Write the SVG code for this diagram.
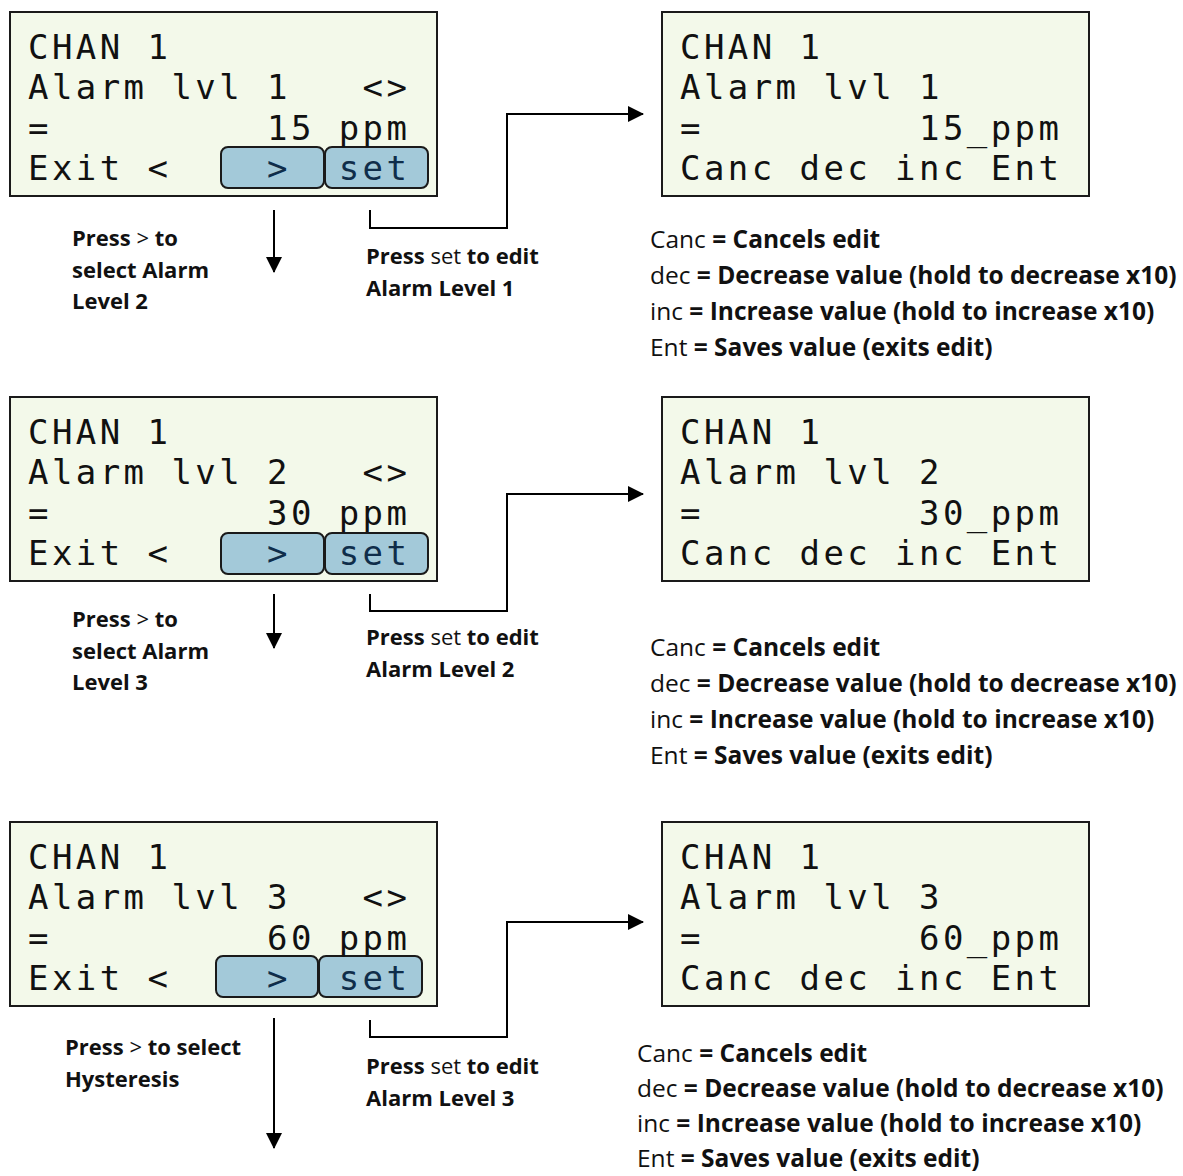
<svg xmlns="http://www.w3.org/2000/svg" width="1183" height="1176" viewBox="0 0 1183 1176">
  <style>
    .lcd { fill: #f3f9ea; stroke: #1a1a1a; stroke-width: 2; }
    .btn { fill: #a3c9d9; stroke: #1a1a1a; stroke-width: 2; }
    .mono { font-family: "DejaVu Sans Mono", "Liberation Mono", monospace; font-size: 34px; letter-spacing: 3.43px; fill: #111; }
    .btxt { fill: #0f2d4a; }
    .lbl { font-family: "Open Sans", Lato, sans-serif; font-size: 22px; font-weight: bold; fill: #111; }
    .leg { font-family: "Open Sans", Lato, sans-serif; font-size: 24.5px; fill: #111; }
    .n { font-weight: normal; }
    .b { font-weight: bold; }
    .wire { fill: none; stroke: #000; stroke-width: 2; }
  </style>
  <defs>
    <marker id="head" viewBox="0 0 16 16" refX="15" refY="8" markerWidth="16" markerHeight="16" markerUnits="userSpaceOnUse" orient="auto">
      <path d="M0,0 L16,8 L0,16 Z" fill="#000"/>
    </marker>
  </defs>

  <!-- screen: alarm level 1 -->
  <g id="scr-alarm1">
    <rect class="lcd" x="10" y="12" width="427" height="184"/>
    <rect class="btn" x="221" y="147" width="103" height="41" rx="7"/>
    <rect class="btn" x="325" y="147" width="103" height="41" rx="7"/>
    <text class="mono" x="28" y="58.5">CHAN 1</text>
    <text class="mono" x="28" y="99">Alarm lvl 1</text>
    <text class="mono" x="362.6" y="99">&lt;&gt;</text>
    <text class="mono" x="28" y="139.5">=</text>
    <text class="mono" x="267" y="139.5">15 ppm</text>
    <text class="mono" x="28" y="180">Exit &lt;</text>
    <text class="mono btxt" x="267" y="180">&gt;</text>
    <text class="mono btxt" x="338.7" y="180">set</text>
  </g>

  <!-- screen: edit alarm level 1 -->
  <g id="edit-alarm1">
    <rect class="lcd" x="662" y="12" width="427" height="184"/>
    <text class="mono" x="680" y="58.5">CHAN 1</text>
    <text class="mono" x="680" y="99">Alarm lvl 1</text>
    <text class="mono" x="680" y="139.5">=</text>
    <text class="mono" x="919" y="139.5">15_ppm</text>
    <text class="mono" x="680" y="180">Canc dec inc Ent</text>
  </g>

  <!-- screen: alarm level 2 -->
  <g id="scr-alarm2">
    <rect class="lcd" x="10" y="397" width="427" height="184"/>
    <rect class="btn" x="221" y="533" width="103" height="41" rx="7"/>
    <rect class="btn" x="325" y="533" width="103" height="41" rx="7"/>
    <text class="mono" x="28" y="443.5">CHAN 1</text>
    <text class="mono" x="28" y="484">Alarm lvl 2</text>
    <text class="mono" x="362.6" y="484">&lt;&gt;</text>
    <text class="mono" x="28" y="524.5">=</text>
    <text class="mono" x="267" y="524.5">30 ppm</text>
    <text class="mono" x="28" y="565">Exit &lt;</text>
    <text class="mono btxt" x="267" y="565">&gt;</text>
    <text class="mono btxt" x="338.7" y="565">set</text>
  </g>

  <!-- screen: edit alarm level 2 -->
  <g id="edit-alarm2">
    <rect class="lcd" x="662" y="397" width="427" height="184"/>
    <text class="mono" x="680" y="443.5">CHAN 1</text>
    <text class="mono" x="680" y="484">Alarm lvl 2</text>
    <text class="mono" x="680" y="524.5">=</text>
    <text class="mono" x="919" y="524.5">30_ppm</text>
    <text class="mono" x="680" y="565">Canc dec inc Ent</text>
  </g>

  <!-- screen: alarm level 3 -->
  <g id="scr-alarm3">
    <rect class="lcd" x="10" y="822" width="427" height="184"/>
    <rect class="btn" x="216" y="956" width="102" height="41" rx="7"/>
    <rect class="btn" x="319" y="956" width="103" height="41" rx="7"/>
    <text class="mono" x="28" y="868.5">CHAN 1</text>
    <text class="mono" x="28" y="909">Alarm lvl 3</text>
    <text class="mono" x="362.6" y="909">&lt;&gt;</text>
    <text class="mono" x="28" y="949.5">=</text>
    <text class="mono" x="267" y="949.5">60 ppm</text>
    <text class="mono" x="28" y="990">Exit &lt;</text>
    <text class="mono btxt" x="267" y="990">&gt;</text>
    <text class="mono btxt" x="338.7" y="990">set</text>
  </g>

  <!-- screen: edit alarm level 3 -->
  <g id="edit-alarm3">
    <rect class="lcd" x="662" y="822" width="427" height="184"/>
    <text class="mono" x="680" y="868.5">CHAN 1</text>
    <text class="mono" x="680" y="909">Alarm lvl 3</text>
    <text class="mono" x="680" y="949.5">=</text>
    <text class="mono" x="919" y="949.5">60_ppm</text>
    <text class="mono" x="680" y="990">Canc dec inc Ent</text>
  </g>

  <!-- connectors -->
  <g id="connectors">
    <path class="wire" d="M274,210 V272" marker-end="url(#head)"/>
    <path class="wire" d="M370,210 V228 H507 V114 H643" marker-end="url(#head)"/>
    <path class="wire" d="M274,594 V648" marker-end="url(#head)"/>
    <path class="wire" d="M370,594 V611 H507 V494 H643" marker-end="url(#head)"/>
    <path class="wire" d="M274,1018 V1148" marker-end="url(#head)"/>
    <path class="wire" d="M370,1020 V1037 H507 V922 H643" marker-end="url(#head)"/>
  </g>

  <!-- hints -->
  <g id="hint-next1">
    <text class="lbl" x="72" y="246">Press <tspan class="n">&gt;</tspan> to</text>
    <text class="lbl" x="72" y="278">select Alarm</text>
    <text class="lbl" x="72" y="309">Level 2</text>
  </g>
  <g id="hint-set1">
    <text class="lbl" x="366" y="264">Press <tspan class="n">set</tspan> to edit</text>
    <text class="lbl" x="366" y="296">Alarm Level 1</text>
  </g>
  <g id="hint-next2">
    <text class="lbl" x="72" y="627">Press <tspan class="n">&gt;</tspan> to</text>
    <text class="lbl" x="72" y="659">select Alarm</text>
    <text class="lbl" x="72" y="690">Level 3</text>
  </g>
  <g id="hint-set2">
    <text class="lbl" x="366" y="645">Press <tspan class="n">set</tspan> to edit</text>
    <text class="lbl" x="366" y="677">Alarm Level 2</text>
  </g>
  <g id="hint-next3">
    <text class="lbl" x="65" y="1055">Press <tspan class="n">&gt;</tspan> to select</text>
    <text class="lbl" x="65" y="1087">Hysteresis</text>
  </g>
  <g id="hint-set3">
    <text class="lbl" x="366" y="1074">Press <tspan class="n">set</tspan> to edit</text>
    <text class="lbl" x="366" y="1106">Alarm Level 3</text>
  </g>

  <!-- key legends -->
  <g id="legend1">
    <text class="leg" x="650" y="248">Canc <tspan class="b">= Cancels edit</tspan></text>
    <text class="leg" x="650" y="284">dec <tspan class="b">= Decrease value (hold to decrease x10)</tspan></text>
    <text class="leg" x="650" y="320">inc <tspan class="b">= Increase value (hold to increase x10)</tspan></text>
    <text class="leg" x="650" y="356">Ent <tspan class="b">= Saves value (exits edit)</tspan></text>
  </g>
  <g id="legend2">
    <text class="leg" x="650" y="656">Canc <tspan class="b">= Cancels edit</tspan></text>
    <text class="leg" x="650" y="692">dec <tspan class="b">= Decrease value (hold to decrease x10)</tspan></text>
    <text class="leg" x="650" y="728">inc <tspan class="b">= Increase value (hold to increase x10)</tspan></text>
    <text class="leg" x="650" y="764">Ent <tspan class="b">= Saves value (exits edit)</tspan></text>
  </g>
  <g id="legend3">
    <text class="leg" x="637" y="1062">Canc <tspan class="b">= Cancels edit</tspan></text>
    <text class="leg" x="637" y="1097">dec <tspan class="b">= Decrease value (hold to decrease x10)</tspan></text>
    <text class="leg" x="637" y="1132">inc <tspan class="b">= Increase value (hold to increase x10)</tspan></text>
    <text class="leg" x="637" y="1167">Ent <tspan class="b">= Saves value (exits edit)</tspan></text>
  </g>
</svg>
